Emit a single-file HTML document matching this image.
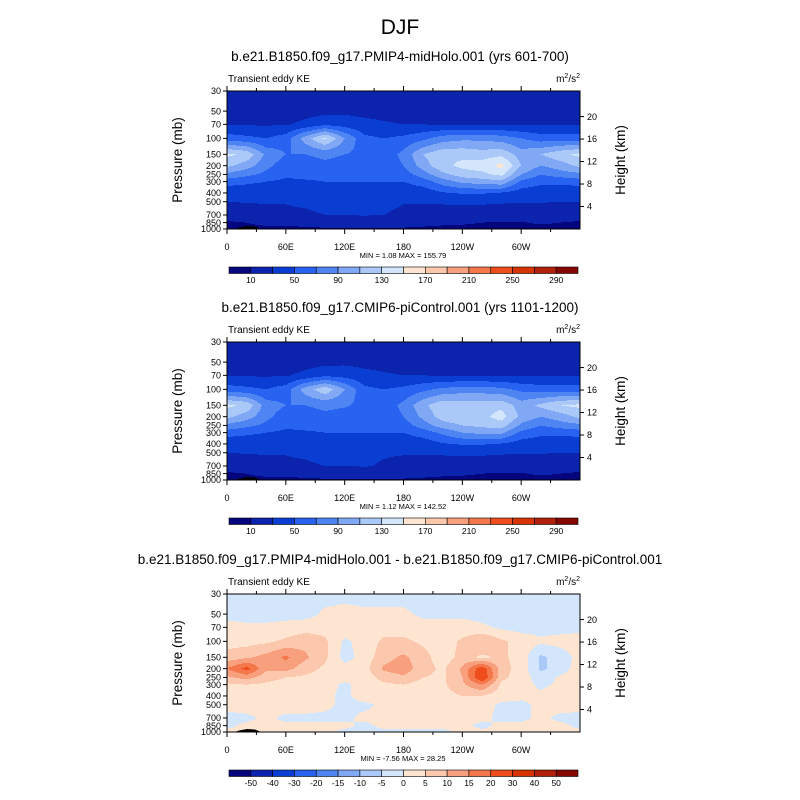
<!DOCTYPE html>
<html><head><meta charset="utf-8"><style>
body{margin:0;background:#fff}
svg{display:block;font-family:"Liberation Sans",sans-serif}
</style></head><body>
<svg id="fig" width="800" height="800" viewBox="0 0 800 800">
<text x="400" y="34" font-size="21" text-anchor="middle">DJF</text>
</svg>
<script>
const lons=[0,20,40,60,80,100,120,140,160,180,200,220,240,260,280,300,320,340,360];
const pLevels=[30,50,70,100,150,200,250,300,400,500,700,850,1000];
const pTicks=[30,50,70,100,150,200,250,300,400,500,700,850,1000];
const hTicks=[4,8,12,16,20];
const lonTickLabels=["0","60E","120E","180","120W","60W"];
const keLevels=[10,30,50,70,90,110,130,150,170,190,210,230,250,270,290];
const keLabels=["10","50","90","130","170","210","250","290"];
const diffLevels=[-50,-40,-30,-20,-15,-10,-5,0,5,10,15,20,30,40,50];
const diffLabels=["-50","-40","-30","-20","-15","-10","-5","0","5","10","15","20","30","40","50"];
const colors=["#05057e","#0c24ad","#0a3ed3","#2862f0","#4f84f3","#80a8f5","#aac8f8","#d3e6fc","#fde5d2","#fbc8ae","#f8a07e","#f5784c","#f04d1c","#d63402","#b0200a","#850800"];
const ke1=[
[20,20,20,20,20,20,20,20,20,20,20,20,20,20,20,20,20,20,20],
[22,22,22,22,22,24,26,25,24,22,22,22,22,22,22,22,22,22,22],
[28,28,28,28,35,45,40,35,32,30,30,28,28,28,28,28,28,28,28],
[60,55,50,60,100,135,90,55,50,55,65,80,85,85,80,70,60,60,60],
[135,125,85,70,70,75,70,65,60,75,110,125,125,120,125,100,110,125,135],
[115,100,75,60,60,65,62,60,58,70,100,125,135,140,156,110,90,100,115],
[85,75,65,55,55,55,55,55,55,60,80,105,120,125,135,90,70,80,85],
[60,55,50,45,48,50,50,50,50,50,60,80,95,100,105,65,55,55,60],
[34,34,33,33,38,42,35,40,38,36,38,48,52,52,48,40,38,36,34],
[30,31,31,31,34,38,32,37,35,31,31,32,33,33,32,31,31,30,30],
[17,20,26,26,26,30,30,31,30,26,24,22,22,20,18,20,20,18,17],
[8,10,15,14,16,18,20,20,19,17,15,13,12,10,9,9,12,10,8],
[5,5,5,6,7,8,9,9,9,8,7,6,6,5,5,5,5,5,5]];
const ke2=[
[20,20,20,20,20,20,20,20,20,20,20,20,20,20,20,20,20,20,20],
[22,22,22,22,22,24,26,25,24,22,22,22,22,22,22,22,22,22,22],
[28,28,28,28,35,45,42,35,32,30,30,28,28,28,28,28,28,28,28],
[60,55,50,60,100,125,90,55,50,55,65,75,80,80,75,65,60,60,60],
[135,125,80,70,70,75,72,65,60,75,105,125,122,120,125,100,115,130,135],
[115,100,75,60,60,65,62,60,58,70,95,120,125,125,138,105,90,100,115],
[85,75,65,55,55,55,55,55,55,60,80,100,110,115,120,85,70,80,85],
[60,55,50,45,48,50,50,50,50,50,60,75,90,95,95,65,55,55,60],
[34,34,33,33,38,45,35,38,36,36,38,48,52,52,48,40,38,36,34],
[30,31,31,31,34,40,32,31,31,31,31,32,33,33,32,31,31,30,30],
[17,20,26,26,26,30,30,31,29,26,24,22,22,20,18,20,20,18,17],
[8,10,15,14,16,18,20,20,18,17,15,13,12,10,9,9,12,10,8],
[5,5,5,6,7,8,9,9,9,8,7,6,6,5,5,5,5,5,5]];
const diff=[
[-2,-2,-2,-2,-2,-2,-2,-2,-2,-2,-2,-2,-2,-2,-2,-2,-2,-2,-2],
[-2,-2,-2,-2,-2,1,2,1,1,1,-1,-1,-1,-2,-2,-2,-2,-2,-2],
[2,1,1,2,3,3,3,3,3,3,2,2,2,1,-1,-2,-2,-2,-2],
[3,3,4,6,8,6,-1,2,6,6,4,2,6,10,6,3,1,2,3],
[7,9,12,16,11,6,-2,2,8,11,7,2,7,4,6,3,-6,-3,2],
[15,22,11,12,7,4,2,3,11,13,7,4,11,24,7,3,-6,-3,3],
[9,12,7,5,4,3,2,2,7,9,5,4,10,26,6,3,-3,1,4],
[4,5,4,3,3,2,-1,2,4,5,3,4,9,15,4,2,-1,1,3],
[2,2,2,2,2,1,-1,2,2,2,1,3,5,5,2,1,1,2,2],
[1,2,2,2,2,1,-1,-1,1,1,1,1,3,2,-1,-1,1,2,1],
[-1,-1,1,-1,-1,-1,-1,1,1,1,1,1,1,1,-1,-1,1,-1,-1],
[-1,1,1,1,1,1,1,-1,1,1,1,1,1,-1,1,1,1,1,-1],
[1,1,1,1,1,1,-1,-1,-1,-1,-1,-1,1,1,1,1,1,1,1]];

const NS="http://www.w3.org/2000/svg";
const svg=document.getElementById('fig');
function mk(tag,attrs,parent){const e=document.createElementNS(NS,tag);for(const k in attrs)e.setAttribute(k,attrs[k]);(parent||svg).appendChild(e);return e;}
const X0=227,W=353,H=138;
function xOf(lon,){return X0+lon/360*W;}
function yOfP(p,top){return top+Math.log(p/30)/Math.log(1000/30)*H;}
function bin(v,lv){let i=0;while(i<lv.length&&v>=lv[i])i++;return i;}
function sample(grid,lon,p){
  let i=Math.min(lons.length-2,Math.floor(lon/20));let fx=(lon-lons[i])/20;
  let j=0;while(j<pLevels.length-2&&p>pLevels[j+1])j++;
  let fy=(Math.log(p)-Math.log(pLevels[j]))/(Math.log(pLevels[j+1])-Math.log(pLevels[j]));
  fy=Math.max(0,Math.min(1,fy));
  const a=grid[j][i],b=grid[j][i+1],c=grid[j+1][i],d=grid[j+1][i+1];
  return (a*(1-fx)+b*fx)*(1-fy)+(c*(1-fx)+d*fx)*fy;
}
function panel(name,title,titleY,top,grid,lv,labels,minmax,cbY){
  const g=mk('g',{});
  
  
  const t=mk('text',{x:400,y:titleY,'font-size':13.5,'text-anchor':'middle'},g);t.textContent=title;
  
  
  const fg=mk('g',{},g);
  
  
  for(let r=0;r<H;r++){
    const p=30*Math.pow(1000/30,(r+0.5)/H);
    let start=0,cur=-1;
    for(let c=0;c<=W;c++){
      let k=-2;
      if(c<W){const lon=(c+0.5)/W*360;k=bin(sample(grid,lon,p),lv);}
      if(k!==cur){
        if(cur>=0){const rc=mk('rect',{x:X0+start,y:top+r,width:c-start,height:1.05,fill:colors[cur]},fg);
          
          }
        cur=k;start=c;
      }
    }
  }
  const topo=mk('path',{d:`M${X0+8} ${top+H} L${X0+12} ${top+H-1.5} L${X0+20} ${top+H-3} L${X0+28} ${top+H-2.5} L${X0+34} ${top+H} Z`,fill:'#000'},g);
  
  
  const fr=mk('rect',{x:X0,y:top,width:W,height:H,fill:'none',stroke:'#000','stroke-width':1},g);
  
  
  pTicks.forEach(p=>{const y=yOfP(p,top);mk('line',{x1:X0-4,x2:X0,y1:y,y2:y,stroke:'#000'},g);
    const tl=mk('text',{x:X0-6,y:y+3.2,'font-size':9,'text-anchor':'end'},g);tl.textContent=p;
    
    });
  hTicks.forEach(h=>{const p=1000*Math.exp(-h/7);const y=yOfP(p,top);mk('line',{x1:X0+W,x2:X0+W+4,y1:y,y2:y,stroke:'#000'},g);
    const tl=mk('text',{x:X0+W+7,y:y+3.2,'font-size':9},g);tl.textContent=h;
    
    });
  for(let k=0;k<12;k++){const x=xOf(k*30);const L=k%2===0?5:3;
    mk('line',{x1:x,x2:x,y1:top,y2:top-L,stroke:'#000'},g);
    mk('line',{x1:x,x2:x,y1:top+H,y2:top+H+L,stroke:'#000'},g);}
  lonTickLabels.forEach((s,k)=>{const tl=mk('text',{x:xOf(k*60),y:top+H+21,'font-size':9,'text-anchor':'middle'},g);tl.textContent=s;
    
    });
  const yl=mk('text',{x:0,y:0,'font-size':13.5,'text-anchor':'middle',transform:`translate(182,${top+H/2}) rotate(-90)`},g);yl.textContent='Pressure (mb)';
  
  
  const yr=mk('text',{x:0,y:0,'font-size':13.5,'text-anchor':'middle',transform:`translate(625,${top+H/2}) rotate(-90)`},g);yr.textContent='Height (km)';
  
  
  const lt=mk('text',{x:228,y:top-9,'font-size':10},g);lt.textContent='Transient eddy KE';
  
  
  const un=mk('text',{x:580,y:top-9,'font-size':10,'text-anchor':'end'},g);
  un.innerHTML='m<tspan dy="-4" font-size="7">2</tspan><tspan dy="4">/s</tspan><tspan dy="-4" font-size="7">2</tspan>';
  
  
  const mm=mk('text',{x:403,y:top+H+29,'font-size':7.5,'text-anchor':'middle','xml:space':'preserve'},g);mm.textContent=minmax;
  
  
  const cb=mk('g',{},g);
  
  
  const cx0=229,cw=349/16;
  colors.forEach((col,i)=>{const r=mk('rect',{x:cx0+i*cw,y:cbY,width:cw,height:6.5,fill:col,stroke:'#000','stroke-width':0.6},cb);
    
    });
  const step=labels.length===lv.length?1:2;
  labels.forEach((s,i)=>{const tl=mk('text',{x:cx0+(i*step+1)*cw,y:cbY+16,'font-size':8.5,'text-anchor':'middle'},cb);tl.textContent=s;
    
    });
}
panel('panel-midholo','b.e21.B1850.f09_g17.PMIP4-midHolo.001 (yrs 601-700)',61,91,ke1,keLevels,keLabels,'MIN =   1.08  MAX = 155.79',267);
panel('panel-picontrol','b.e21.B1850.f09_g17.CMIP6-piControl.001 (yrs 1101-1200)',312,342,ke2,keLevels,keLabels,'MIN =   1.12  MAX = 142.52',518);
panel('panel-difference','b.e21.B1850.f09_g17.PMIP4-midHolo.001 - b.e21.B1850.f09_g17.CMIP6-piControl.001',564,594,diff,diffLevels,diffLabels,'MIN =  -7.56  MAX =  28.25',770);
</script>
</body></html>
